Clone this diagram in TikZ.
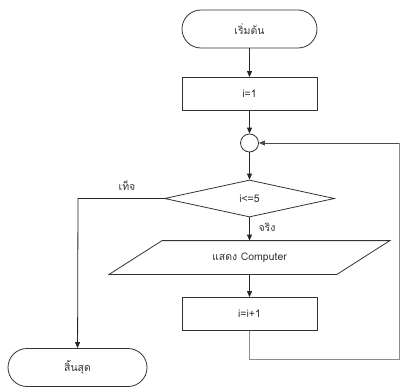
\documentclass[tikz,border=0pt]{standalone}
\usepackage{fontspec}
\setmainfont[Script=Thai]{Loma}
\usetikzlibrary{arrows.meta,shapes.geometric}
\begin{document}
\begin{tikzpicture}[x=1pt,y=-1pt,
  line width=0.8pt,
  every node/.style={font=\fontsize{10.5}{12}\selectfont, text=black!80},
  term/.style={draw=black!80, rounded corners=19pt, minimum width=135pt, minimum height=38pt, inner sep=0pt},
  procbox/.style={draw=black!80, minimum width=135pt, minimum height=33pt, inner sep=0pt},
  decbox/.style={draw=black!80, diamond, minimum width=170pt, minimum height=37pt, inner sep=0pt},
  conbox/.style={draw=black!80, circle, minimum size=18pt, inner sep=0pt},
  flow/.style={draw=black!85, -{Triangle[length=6pt,width=5pt]}},
  loopline/.style={draw=black!45}
]
\useasboundingbox (0,0) rectangle (401,388);
\node[term] (start) at (249.5,29) {เริ่มต้น};
\node[procbox] (init) at (249.5,94) {i=1};
\node[conbox] (conn) at (249.5,143) {};
\node[decbox] (dec) at (249.5,198.5) {i<=5};
\node[minimum width=227pt, minimum height=33pt, inner sep=0pt] (disp) at (249.5,257.5) {แสดง Computer};
\draw[black!80] ([xshift=26.5pt]disp.north west) -- ([xshift=26.5pt]disp.north east)
  -- ([xshift=-26.5pt]disp.south east) -- ([xshift=-26.5pt]disp.south west) -- cycle;
\node[procbox] (inc) at (249.5,314) {i=i+1};
\node[term, minimum width=139pt] (stop) at (77.5,367.5) {สิ้นสุด};

\coordinate (fl) at (78,198.5);
\coordinate (lb) at (249.5,359);
\coordinate (rb) at (399,359);
\coordinate (rt) at (399,143);

\draw[flow] (start) -- (init);
\draw[flow] (init) -- (conn);
\draw[flow] (conn) -- (dec);
\draw[flow] (dec) -- (disp.north);
\draw[flow] (disp.south) -- (inc);
\draw[flow] (dec.west) -- (fl) -- (stop);
\draw[loopline] (inc.south) -- (lb) -- (rb) -- (rt);
\draw[flow, draw=black!70] (rt) -- (conn.east);

\node (f) at (127,186) {เท็จ};
\node (t) at (267,227) {จริง};
\end{tikzpicture}
\end{document}
